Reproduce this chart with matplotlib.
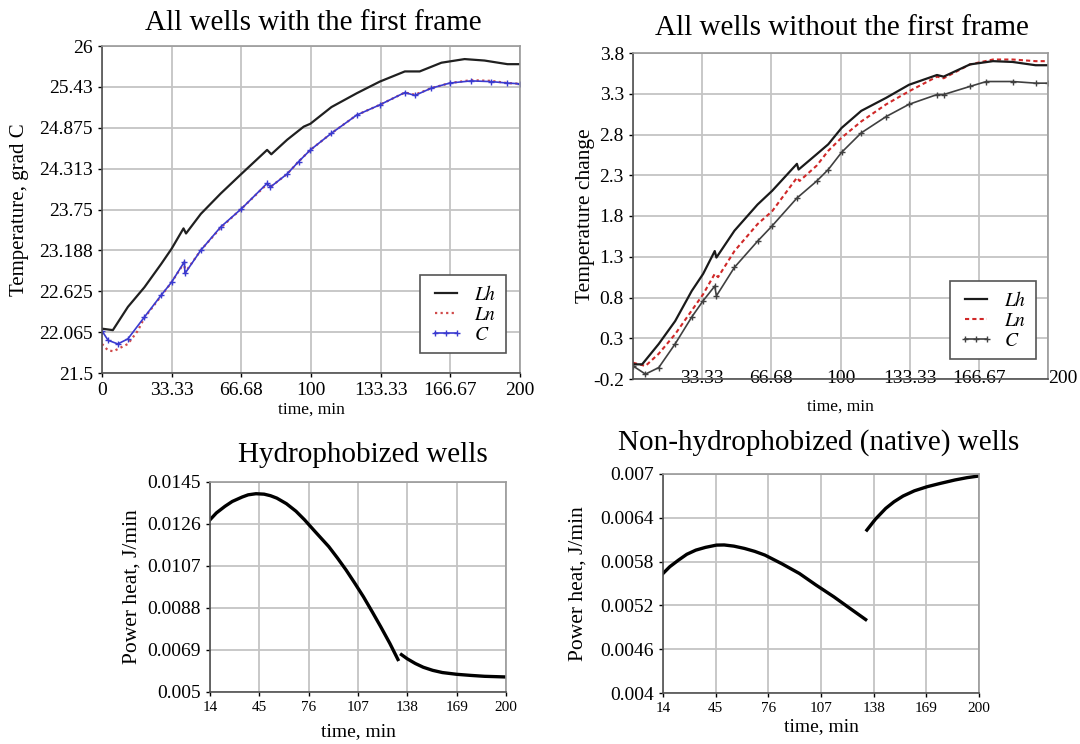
import matplotlib
matplotlib.use('Agg')
import matplotlib.pyplot as plt
import numpy as np

plt.rcParams['font.family'] = ['Liberation Serif', 'DejaVu Serif']
plt.rcParams['mathtext.fontset'] = 'stix'

# ---- top left: all wells with the first frame ----
t1_lh = [0, 5.2, 12.4, 20.3, 28.3, 33.3, 39.0, 40.2, 47.3, 56.8, 66.7, 79.0, 81.0, 88.6, 96.5,
         99.7, 109.8, 121.9, 132.9, 144.9, 152.0, 162.4, 173.5, 183.0, 194.0, 200]
lh1 = [22.11, 22.09, 22.41, 22.68, 23.00, 23.21, 23.49, 23.42, 23.69, 23.97, 24.24, 24.57, 24.51, 24.71, 24.89,
       24.93, 25.16, 25.35, 25.51, 25.65, 25.65, 25.77, 25.82, 25.80, 25.75, 25.75]
t1_ln = [0, 2.9, 5.5, 12.4, 17.1, 20.3, 28.3, 33.3, 39.4, 39.7, 47.3, 56.8, 66.7, 79.0, 80.6, 88.6, 94.1,
         99.7, 109.8, 121.9, 132.9, 144.9, 149.7, 157.6, 166.4, 176.6, 186.2, 194.0, 200]
ln1 = [21.90, 21.81, 21.80, 21.90, 22.08, 22.26, 22.56, 22.75, 23.02, 22.88, 23.19, 23.50, 23.76, 24.10, 24.06, 24.24, 24.41,
       24.57, 24.80, 25.05, 25.19, 25.36, 25.33, 25.42, 25.49, 25.53, 25.52, 25.49, 25.48]
t1_c = [0, 2.9, 7.6, 12.4, 20.3, 28.3, 33.3, 39.4, 39.7, 47.3, 56.8, 66.7, 79.0, 80.6, 88.6, 94.1,
        99.7, 109.8, 121.9, 132.9, 144.9, 149.7, 157.6, 166.4, 176.6, 186.2, 194.0, 200]
c1 = [22.08, 21.95, 21.90, 21.97, 22.27, 22.57, 22.75, 23.03, 22.87, 23.19, 23.51, 23.76, 24.11, 24.06, 24.24, 24.41,
      24.57, 24.80, 25.05, 25.19, 25.36, 25.32, 25.42, 25.49, 25.52, 25.51, 25.49, 25.48]
y1_ticks = [21.5, 22.0625, 22.625, 23.1875, 23.75, 24.3125, 24.875, 25.4375, 26]
y1_labels = ['21.5', '22.065', '22.625', '23.188', '23.75', '24.313', '24.875', '25.43', '26']
x_ticks_top = [0, 33.33, 66.68, 100, 133.33, 166.67, 200]
x_labels_top = ['0', '33.33', '66.68', '100', '133.33', '166.67', '200']

# ---- top right: all wells without the first frame ----
t2_lh = [0, 4.4, 12.4, 20.3, 28.3, 33.8, 39.4, 40.2, 48.9, 60.0, 67.1, 79.0, 79.8, 88.6, 94.1,
         100.5, 110.0, 122.0, 133.0, 146.5, 149.7, 162.4, 173.5, 183.0, 194.0, 200]
lh2 = [-0.02, -0.02, 0.23, 0.51, 0.88, 1.09, 1.37, 1.29, 1.62, 1.94, 2.11, 2.44, 2.37, 2.56, 2.68,
       2.88, 3.09, 3.25, 3.41, 3.53, 3.51, 3.66, 3.70, 3.69, 3.65, 3.65]
t2_ln = [0, 6.0, 12.4, 20.3, 28.3, 33.8, 39.4, 41.0, 48.9, 60.0, 67.1, 79.0, 80.3, 88.6, 94.1,
         100.5, 110.0, 122.0, 133.0, 146.5, 149.7, 162.4, 173.5, 183.0, 194.0, 200]
ln2 = [0.0, -0.04, 0.11, 0.35, 0.64, 0.84, 1.09, 1.05, 1.37, 1.70, 1.86, 2.27, 2.23, 2.42, 2.60,
       2.76, 2.96, 3.17, 3.33, 3.51, 3.49, 3.66, 3.72, 3.72, 3.70, 3.70]
t2_c = [0, 6.0, 12.4, 20.3, 28.3, 33.8, 39.4, 40.2, 48.9, 60.0, 67.1, 79.0, 88.6, 94.1,
        100.5, 110.0, 122.0, 133.0, 146.5, 149.7, 162.4, 170.3, 183.0, 194.0, 200]
c2 = [-0.04, -0.14, -0.06, 0.23, 0.56, 0.76, 0.94, 0.82, 1.17, 1.49, 1.68, 2.02, 2.23, 2.37,
      2.58, 2.82, 3.02, 3.17, 3.29, 3.29, 3.39, 3.45, 3.45, 3.43, 3.43]
y2_ticks = [-0.2, 0.3, 0.8, 1.3, 1.8, 2.3, 2.8, 3.3, 3.8]
y2_labels = ['-0.2', '0.3', '0.8', '1.3', '1.8', '2.3', '2.8', '3.3', '3.8']
x2_labels = ['', '33.33', '66.68', '100', '133.33', '166.67', '200']

# ---- bottom: power heat ----
t3a = [14, 18, 23.4, 28, 34.2, 38, 42.9, 48, 52, 56, 62, 68, 73.4, 80, 88.6, 94, 99.5, 105,
       110.4, 116, 121.3, 127, 132.1]
p3a = [0.01279, 0.0131, 0.0134, 0.01362, 0.01382, 0.01392, 0.01397, 0.01395, 0.01388, 0.01377,
       0.01352, 0.01318, 0.01279, 0.01226, 0.01158, 0.01107, 0.01052, 0.00992, 0.00931, 0.00862,
       0.00795, 0.0072, 0.00647]
t3b = [134.3, 138, 143, 148, 153.9, 160, 169.1, 178, 186.5, 200]
p3b = [0.00669, 0.0065, 0.00629, 0.00612, 0.00598, 0.00588, 0.0058, 0.00575, 0.00571, 0.00568]
y3_ticks = [0.005, 0.0069, 0.0088, 0.0107, 0.0126, 0.0145]
y3_labels = ['0.005', '0.0069', '0.0088', '0.0107', '0.0126', '0.0145']

t4a = [14, 18, 23.1, 28, 33.3, 39, 45.5, 50, 55.7, 62, 68, 74, 84, 94.3, 104, 114.6, 124, 133.3]
p4a = [0.005637, 0.00573, 0.00582, 0.0059, 0.005957, 0.005995, 0.006026, 0.006028, 0.006012,
       0.00598, 0.00594, 0.005889, 0.00577, 0.005637, 0.00548, 0.005317, 0.00516, 0.005006]
t4b = [134, 139, 145.1, 150, 155.3, 162, 169.5, 177, 185.8, 193, 200]
p4b = [0.006232, 0.00638, 0.006529, 0.00662, 0.006698, 0.00677, 0.006826, 0.00687, 0.006918,
       0.00695, 0.006973]
y4_ticks = [0.004, 0.0046, 0.0052, 0.0058, 0.0064, 0.007]
y4_labels = ['0.004', '0.0046', '0.0052', '0.0058', '0.0064', '0.007']

x_ticks_bot = [14, 45, 76, 107, 138, 169, 200]

W, H = 1080, 744
fig = plt.figure(figsize=(W / 100, H / 100), dpi=100)


def make_axes(left, right, top, bottom):
    ax = fig.add_axes([left / W, 1 - bottom / H, (right - left) / W, (bottom - top) / H])
    ax.grid(True, color='#c4c4c4', lw=1.3)
    ax.set_axisbelow(True)
    for s in ['top', 'right']:
        ax.spines[s].set_color('#9a9a9a')
    for s in ['left', 'bottom']:
        ax.spines[s].set_color('#505050')
    for s in ax.spines.values():
        s.set_linewidth(1.2)
    ax.tick_params(colors='black', length=3, width=1, direction='out')
    return ax


def title(x, y, txt):
    fig.text(x / W, 1 - y / H, txt, fontsize=21, ha='center', va='center')


def add_legend(ax, anchor):
    h, l = ax.get_legend_handles_labels()
    leg = ax.legend([h[2], h[0], h[1]], ['$Lh$', '$Ln$', '$C$'], loc='lower right',
                    bbox_to_anchor=anchor, fontsize=14, fancybox=False, framealpha=1,
                    edgecolor='#555555', handlelength=1.7, borderpad=0.5, labelspacing=0.12,
                    numpoints=3, handletextpad=0.6)
    leg.get_frame().set_linewidth(1.2)


# panel 1
ax1 = make_axes(102, 520, 46, 373)
ax1.plot(t1_ln, ln1, color='#d04a4a', ls=(0, (1, 1.5)), lw=1.6, label='$Ln$')
ax1.plot(t1_c, c1, color='#3a3ad0', lw=1.2, marker='+', ms=4, mew=1, label='$C$')
ax1.plot(t1_lh, lh1, color='#202020', lw=1.6, label='$Lh$')
ax1.set_xlim(0, 200)
ax1.set_ylim(21.5, 26)
ax1.set_xticks(x_ticks_top, x_labels_top, fontsize=14)
ax1.set_yticks(y1_ticks, y1_labels, fontsize=14)
ax1.set_ylabel('Temperature, grad C', fontsize=15)
ax1.yaxis.set_label_coords(-0.175, 0.5)
ax1.set_xlabel('time, min', fontsize=12.5)
ax1.xaxis.set_label_coords(0.5, -0.088)
add_legend(ax1, (0.99, 0.03))
title(313, 23, 'All wells with the first frame')

# panel 2
ax2 = make_axes(633, 1048, 53, 379)
ax2.plot(t2_ln, ln2, color='#d02828', ls=(0, (2, 1.5)), lw=1.5, label='$Ln$')
ax2.plot(t2_c, c2, color='#404040', lw=1.2, marker='+', ms=4, mew=1, label='$C$')
ax2.plot(t2_lh, lh2, color='#1a1a1a', lw=1.6, label='$Lh$')
ax2.set_xlim(0, 200)
ax2.set_ylim(-0.2, 3.8)
ax2.set_xticks(x_ticks_top, x2_labels, fontsize=14)
ax2.tick_params(axis='x', length=0, pad=-6.5)
ax2.get_xticklabels()[-1].set_ha('left')
ax2.set_yticks(y2_ticks, y2_labels, fontsize=14)
ax2.set_ylabel('Temperature change', fontsize=15.5)
ax2.yaxis.set_label_coords(-0.092, 0.5)
ax2.set_xlabel('time, min', fontsize=12.5)
ax2.xaxis.set_label_coords(0.5, -0.06)
add_legend(ax2, (0.995, 0.03))
title(842, 28, 'All wells without the first frame')

# panel 3
ax3 = make_axes(210, 506, 482, 692)
ax3.plot(t3a, p3a, color='black', lw=2.4)
ax3.plot(t3b, p3b, color='black', lw=2.4)
ax3.set_xlim(14, 200)
ax3.set_ylim(0.005, 0.0145)
ax3.set_xticks(x_ticks_bot, [str(v) for v in x_ticks_bot], fontsize=11)
ax3.set_yticks(y3_ticks, y3_labels, fontsize=14)
ax3.set_ylabel('Power heat, J/min', fontsize=15.5)
ax3.yaxis.set_label_coords(-0.23, 0.5)
ax3.set_xlabel('time, min', fontsize=14)
ax3.xaxis.set_label_coords(0.5, -0.15)
title(363, 455, 'Hydrophobized wells')

# panel 4
ax4 = make_axes(663, 979, 474, 693)
ax4.plot(t4a, p4a, color='black', lw=2.4)
ax4.plot(t4b, p4b, color='black', lw=2.4)
ax4.set_xlim(14, 200)
ax4.set_ylim(0.004, 0.007)
ax4.set_xticks(x_ticks_bot, [str(v) for v in x_ticks_bot], fontsize=11)
ax4.set_yticks(y4_ticks, y4_labels, fontsize=14)
ax4.set_ylabel('Power heat, J/min', fontsize=15.5)
ax4.yaxis.set_label_coords(-0.24, 0.5)
ax4.set_xlabel('time, min', fontsize=14)
ax4.xaxis.set_label_coords(0.5, -0.115)
title(819, 443, 'Non-hydrophobized (native) wells')

fig.savefig('out.png', dpi=100, facecolor='white')
